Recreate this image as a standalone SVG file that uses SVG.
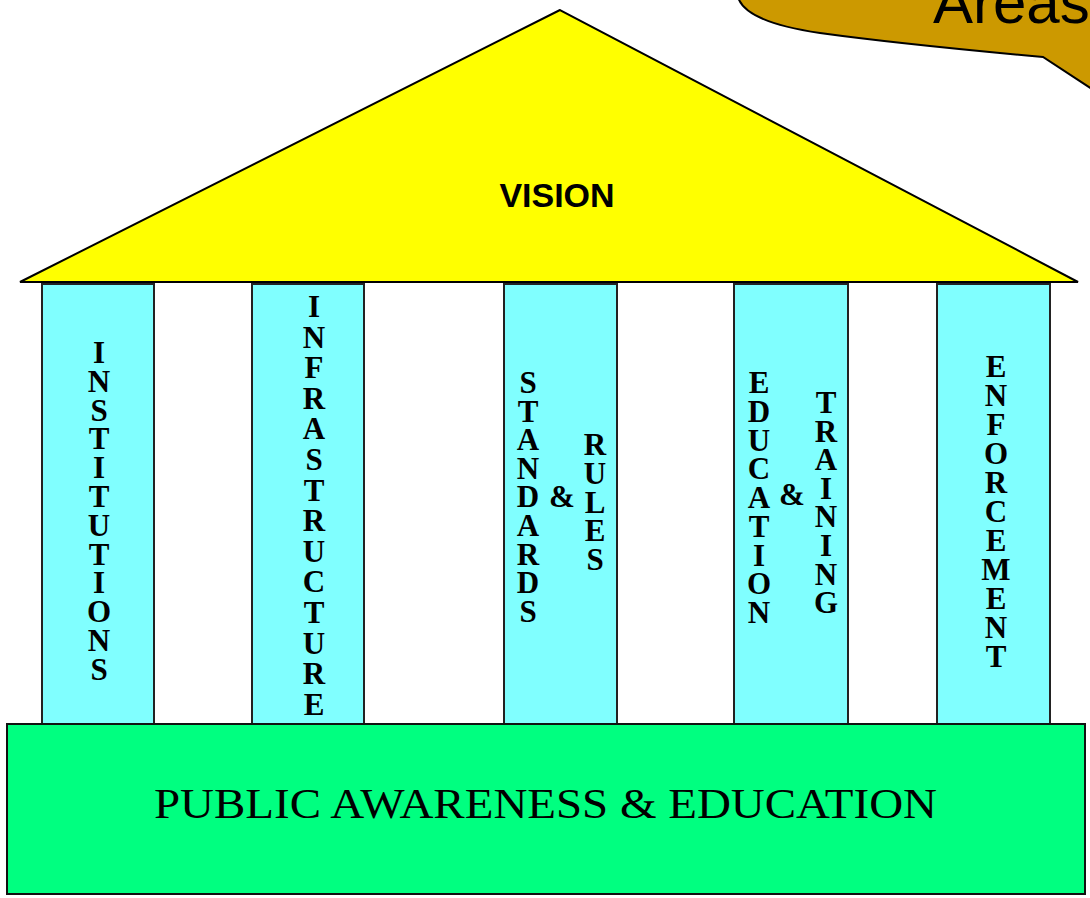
<svg xmlns="http://www.w3.org/2000/svg" width="1090" height="898" viewBox="0 0 1090 898">
<style>
.pillar{fill:#80FFFF;stroke:#222;stroke-width:2}
.lt{font-family:"Liberation Serif","Times New Roman",serif;font-size:31px;font-weight:bold;fill:#000;text-anchor:middle}
</style>
<rect width="1090" height="898" fill="#fff"/>
<g id="callout">
<path d="M738,-3 Q745,22 820,33 Q900,44 1043,57 L1092,89 L1092,-3 Z" fill="#CC9900" stroke="#000" stroke-width="2"/>
<text x="933" y="23" font-family="Liberation Sans,Arial,sans-serif" font-size="60" fill="#000">Areas</text>
</g>
<g id="roof">
<polygon points="560,10 20,282 1078,282" fill="#FFFF00" stroke="#000" stroke-width="2" stroke-linejoin="miter"/>
<text x="557" y="207" font-family="Liberation Sans,Arial,sans-serif" font-size="34" font-weight="bold" text-anchor="middle" fill="#000">VISION</text>
</g>
<g id="institutions">
<rect class="pillar" x="42" y="284" width="112" height="441"/>
<text class="lt" x="99" y="363"><tspan x="99">I</tspan><tspan x="99" dy="28.8">N</tspan><tspan x="99" dy="28.8">S</tspan><tspan x="99" dy="28.8">T</tspan><tspan x="99" dy="28.8">I</tspan><tspan x="99" dy="28.8">T</tspan><tspan x="99" dy="28.8">U</tspan><tspan x="99" dy="28.8">T</tspan><tspan x="99" dy="28.8">I</tspan><tspan x="99" dy="28.8">O</tspan><tspan x="99" dy="28.8">N</tspan><tspan x="99" dy="28.8">S</tspan></text>
</g>
<g id="infrastructure">
<rect class="pillar" x="252" y="284" width="112" height="441"/>
<text class="lt" x="314" y="317"><tspan x="314">I</tspan><tspan x="314" dy="30.6">N</tspan><tspan x="314" dy="30.6">F</tspan><tspan x="314" dy="30.6">R</tspan><tspan x="314" dy="30.6">A</tspan><tspan x="314" dy="30.6">S</tspan><tspan x="314" dy="30.6">T</tspan><tspan x="314" dy="30.6">R</tspan><tspan x="314" dy="30.6">U</tspan><tspan x="314" dy="30.6">C</tspan><tspan x="314" dy="30.6">T</tspan><tspan x="314" dy="30.6">U</tspan><tspan x="314" dy="30.6">R</tspan><tspan x="314" dy="30.6">E</tspan></text>
</g>
<g id="standards-rules">
<rect class="pillar" x="504" y="284" width="113" height="441"/>
<text class="lt" x="528" y="393"><tspan x="528">S</tspan><tspan x="528" dy="28.6">T</tspan><tspan x="528" dy="28.6">A</tspan><tspan x="528" dy="28.6">N</tspan><tspan x="528" dy="28.6">D</tspan><tspan x="528" dy="28.6">A</tspan><tspan x="528" dy="28.6">R</tspan><tspan x="528" dy="28.6">D</tspan><tspan x="528" dy="28.6">S</tspan></text>
<text class="lt" x="562" y="507">&amp;</text>
<text class="lt" x="595" y="455"><tspan x="595">R</tspan><tspan x="595" dy="28.75">U</tspan><tspan x="595" dy="28.75">L</tspan><tspan x="595" dy="28.75">E</tspan><tspan x="595" dy="28.75">S</tspan></text>
</g>
<g id="education-training">
<rect class="pillar" x="734" y="284" width="114" height="441"/>
<text class="lt" x="759" y="393"><tspan x="759">E</tspan><tspan x="759" dy="28.75">D</tspan><tspan x="759" dy="28.75">U</tspan><tspan x="759" dy="28.75">C</tspan><tspan x="759" dy="28.75">A</tspan><tspan x="759" dy="28.75">T</tspan><tspan x="759" dy="28.75">I</tspan><tspan x="759" dy="28.75">O</tspan><tspan x="759" dy="28.75">N</tspan></text>
<text class="lt" x="792" y="505">&amp;</text>
<text class="lt" x="826" y="413"><tspan x="826">T</tspan><tspan x="826" dy="28.6">R</tspan><tspan x="826" dy="28.6">A</tspan><tspan x="826" dy="28.6">I</tspan><tspan x="826" dy="28.6">N</tspan><tspan x="826" dy="28.6">I</tspan><tspan x="826" dy="28.6">N</tspan><tspan x="826" dy="28.6">G</tspan></text>
</g>
<g id="enforcement">
<rect class="pillar" x="937" y="284" width="113" height="441"/>
<text class="lt" x="996" y="377"><tspan x="996">E</tspan><tspan x="996" dy="29">N</tspan><tspan x="996" dy="29">F</tspan><tspan x="996" dy="29">O</tspan><tspan x="996" dy="29">R</tspan><tspan x="996" dy="29">C</tspan><tspan x="996" dy="29">E</tspan><tspan x="996" dy="29">M</tspan><tspan x="996" dy="29">E</tspan><tspan x="996" dy="29">N</tspan><tspan x="996" dy="29">T</tspan></text>
</g>
<g id="public-awareness">
<rect x="7" y="724" width="1078" height="170" fill="#00FF80" stroke="#111" stroke-width="2"/>
<text x="154" y="818" font-family="Liberation Serif,Times New Roman,serif" font-size="42" textLength="783" lengthAdjust="spacingAndGlyphs" fill="#000">PUBLIC AWARENESS &amp; EDUCATION</text>
</g>
<g id="connectors"></g>
</svg>
